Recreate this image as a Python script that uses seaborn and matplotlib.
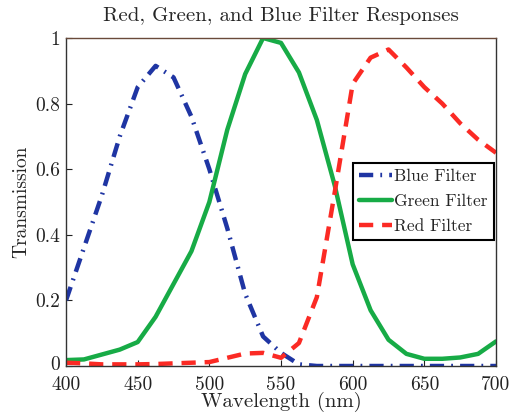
import numpy as np
import pandas as pd
import matplotlib
matplotlib.use("Agg")
import matplotlib.pyplot as plt
import matplotlib.transforms as mtransforms
import seaborn as sns

wavelength = [400, 412.5, 425, 437.5, 450, 462.5, 475, 487.5, 500, 512.5, 525, 537.5, 550,
              562.5, 575, 587.5, 600, 612.5, 625, 637.5, 650, 662.5, 675, 687.5, 700]
blue = [0.20, 0.36, 0.52, 0.70, 0.85, 0.915, 0.88, 0.76, 0.60, 0.42, 0.22, 0.09, 0.04,
        0.005, 0.0, 0.0, 0.0, 0.0, 0.0, 0.0, 0.0, 0.0, 0.0, 0.0, 0.0]
green = [0.018, 0.02, 0.035, 0.05, 0.073, 0.15, 0.25, 0.35, 0.50, 0.72, 0.89, 1.0, 0.985,
         0.895, 0.75, 0.55, 0.31, 0.17, 0.08, 0.037, 0.022, 0.022, 0.026, 0.037, 0.075]
red = [0.01, 0.008, 0.005, 0.005, 0.005, 0.006, 0.008, 0.01, 0.012, 0.025, 0.038, 0.04, 0.025,
       0.07, 0.21, 0.53, 0.86, 0.94, 0.965, 0.91, 0.85, 0.80, 0.74, 0.69, 0.65]
series_names = ["Blue Filter", "Green Filter", "Red Filter"]
xticks = [400, 450, 500, 550, 600, 650, 700]
yticks = [0, 0.2, 0.4, 0.6, 0.8, 1.0]
ytick_labels = ["0", "0.2", "0.4", "0.6", "0.8", "1"]

df = pd.DataFrame({
    "Wavelength": wavelength * 3,
    "Transmission": blue + green + red,
    "Filter": [series_names[0]] * len(wavelength) + [series_names[1]] * len(wavelength)
              + [series_names[2]] * len(wavelength),
})

sns.set_style("white")
plt.rcParams["font.family"] = ["cmr10", "DejaVu Serif"]
plt.rcParams["axes.formatter.use_mathtext"] = True

fig = plt.figure(figsize=(5.17, 4.17), dpi=100)
ax = fig.add_axes([0.1277, 0.1223, 0.8317, 0.7866])

palette = {"Blue Filter": "#1f35a3", "Green Filter": "#17ab46", "Red Filter": "#fb2a24"}
dashes = {"Blue Filter": (3.2, 1.6, 0.4, 1.6), "Green Filter": "", "Red Filter": (3.2, 2.0)}

sns.lineplot(data=df, x="Wavelength", y="Transmission", hue="Filter", style="Filter",
             palette=palette, dashes=dashes, linewidth=3.2, ax=ax, legend=True,
             hue_order=series_names, style_order=series_names)

ax.set_xlim(400, 700)
ax.set_ylim(0, 1)
ax.set_xticks(xticks)
ax.set_xticklabels([str(t) for t in xticks])
ax.set_yticks(yticks)
ax.set_yticklabels(ytick_labels)
ax.tick_params(direction="in", length=4, width=0.8, labelsize=14, colors="#222222",
               bottom=True, left=True)
ax.tick_params(axis="x", pad=7)
ax.tick_params(axis="y", pad=4)
ax.set_xlabel("Wavelength (nm)", fontsize=15, labelpad=-1)
ax.set_ylabel("Transmission", fontsize=14, labelpad=4)
ax.set_title("Red, Green, and Blue Filter Responses", fontsize=15, pad=12)

# nudge the "0" label up slightly so it clears the "400" label
zero_label = ax.get_yticklabels()[0]
zero_label.set_transform(zero_label.get_transform()
                         + mtransforms.ScaledTranslation(0, 3 / 100, fig.dpi_scale_trans))

for side in ["left", "bottom", "right"]:
    ax.spines[side].set_color("#333333")
    ax.spines[side].set_linewidth(1.0)
ax.spines["top"].set_color("#6a4a3a")
ax.spines["top"].set_linewidth(1.0)

leg = ax.legend(loc="upper left", bbox_to_anchor=(0.667, 0.619), fontsize=12.5,
                frameon=True, fancybox=False, edgecolor="black", framealpha=1,
                handlelength=1.9, borderpad=0.35, labelspacing=0.55, handletextpad=0.15,
                borderaxespad=0)
leg.get_frame().set_linewidth(1.5)

fig.savefig("out.png", dpi=100)
